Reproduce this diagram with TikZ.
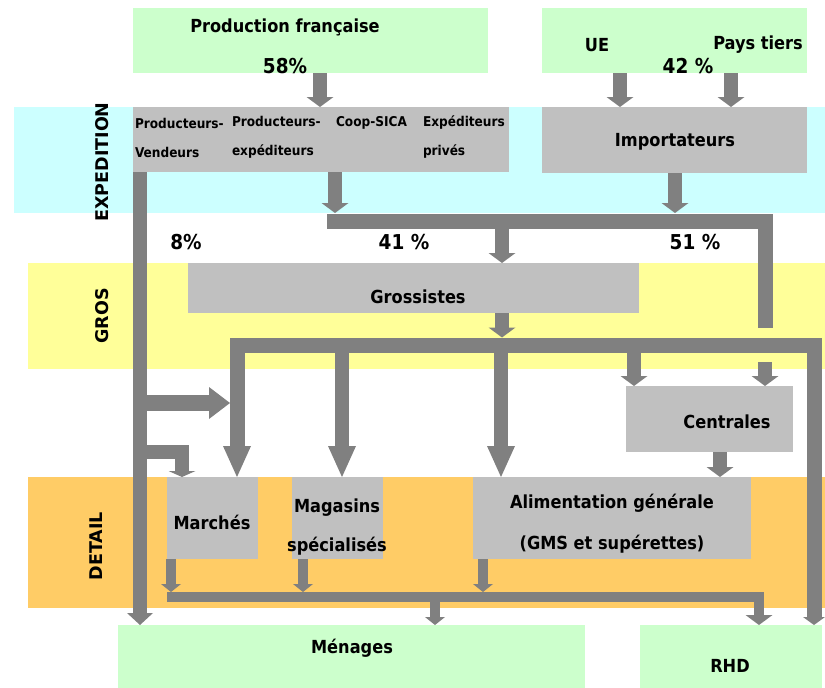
\documentclass[tikz,border=0pt]{standalone}
\usepackage{fontspec}
\setmainfont{DejaVu Sans Condensed}
\newfontfamily\bandfont{DejaVu Sans}
\usetikzlibrary{arrows.meta}

\definecolor{arrgrey}{HTML}{808080}
\definecolor{boxgrey}{HTML}{C0C0C0}
\definecolor{cyanband}{HTML}{CCFFFF}
\definecolor{yellband}{HTML}{FFFF99}
\definecolor{orband}{HTML}{FFCC66}
\definecolor{greenfill}{HTML}{CCFFCC}

\begin{document}
\begin{tikzpicture}[x=1pt,y=-1pt]
					\tikzstyle{every node}=[inner sep=0pt, outer sep=0pt]
					\tikzstyle{band}=[anchor=north west]
					\tikzstyle{greybox}=[fill=boxgrey, anchor=north west]
					\tikzstyle{greenbox}=[fill=greenfill, anchor=north west]
					\tikzstyle{txt}=[font=\fontsize{18}{21}\selectfont\bfseries]
					\tikzstyle{pct}=[font=\fontsize{20.5}{22}\selectfont\bfseries]
					\tikzstyle{sub}=[font=\fontsize{13.5}{29}\selectfont\bfseries, align=left, anchor=west]
					\tikzstyle{bandtxt}=[font=\bandfont\fontsize{17.5}{19}\selectfont\bfseries, rotate=90]
					\tikzstyle{arr}=[color=arrgrey, line width=14pt, -{Triangle[width=27pt,length=10pt,line width=0pt]}]
					\tikzstyle{bigarr}=[color=arrgrey, line width=14pt, -{Triangle[width=28pt,length=31pt,line width=0pt]}]
					\tikzstyle{sidearr}=[color=arrgrey, line width=16pt, -{Triangle[width=32pt,length=21pt,line width=0pt]}]
					\tikzstyle{elbowarr}=[color=arrgrey, line width=14pt, -{Triangle[width=27pt,length=6pt,line width=0pt]}]
					\tikzstyle{smallarr}=[color=arrgrey, line width=10pt, -{Triangle[width=20pt,length=8pt,line width=0pt]}]
					\tikzstyle{barline}=[color=arrgrey, line width=15pt]
					\tikzstyle{thinbar}=[color=arrgrey, line width=10pt]
					\useasboundingbox (0,0) rectangle (825,688);
					\node[band, fill=cyanband, minimum width=811pt, minimum height=106pt] (expband) at (14,107) {};
					\node[band, fill=yellband, minimum width=797pt, minimum height=106pt] (grosband) at (28,263) {};
					\node[band, fill=orband, minimum width=797pt, minimum height=131pt] (detband) at (28,477) {};
					\node[bandtxt] (lexp) at (102,162) {EXPEDITION};
					\node[bandtxt] (lgros) at (102,316) {GROS};
					\node[bandtxt] (ldet) at (96,546) {DETAIL};
					\node[greenbox, minimum width=355pt, minimum height=65pt] (prod) at (133,8) {};
					\node[greenbox, minimum width=265pt, minimum height=65pt] (src) at (542,8) {};
					\node[greybox, minimum width=376pt, minimum height=65pt] (exped) at (133,107) {};
					\node[greybox, minimum width=265pt, minimum height=66pt] (imp) at (542,107) {};
					\node[greybox, minimum width=451pt, minimum height=50pt] (gross) at (188,263) {};
					\node[greybox, minimum width=167pt, minimum height=66pt] (centr) at (626,386) {};
					\node[greybox, minimum width=91pt, minimum height=82pt] (march) at (167,477) {};
					\node[greybox, minimum width=91pt, minimum height=82pt] (magas) at (292,477) {};
					\node[greybox, minimum width=278pt, minimum height=82pt] (alim) at (473,477) {};
					\node[greenbox, minimum width=467pt, minimum height=63pt] (menag) at (118,625) {};
					\node[greenbox, minimum width=182pt, minimum height=63pt] (rhd) at (640,625) {};
					\coordinate (cpf) at (320,0);
					\coordinate (cue) at (620,0);
					\coordinate (cpt) at (731,0);
					\coordinate (cex) at (335,0);
					\coordinate (cim) at (675,0);
					\coordinate (cgr) at (502,0);
					\coordinate (cmg) at (342,0);
					\coordinate (cal) at (501,0);
					\coordinate (cc1) at (634,0);
					\coordinate (cc2) at (765,0);
					\coordinate (cc3) at (720,0);
					\coordinate (clv) at (140,0);
					\coordinate (cm1) at (171,0);
					\coordinate (cm2) at (303,0);
					\coordinate (cm3) at (483,0);
					\coordinate (cmn) at (435,0);
					\coordinate (b1w) at (327,221);
					\coordinate (b1e) at (765.5,221);
					\coordinate (b1s) at (765.5,328);
					\coordinate (b2w) at (237,345);
					\coordinate (b2e) at (814,345);
					\coordinate (b3w) at (167,596.5);
					\coordinate (b3e) at (759,596.5);
					\coordinate (br1) at (140,403);
					\coordinate (br2) at (140,452);
					\coordinate (br2e) at (182,452);
					\draw[arr] (prod.south -| cpf) -- (exped.north -| cpf);
					\draw[arr] (src.south -| cue) -- (imp.north -| cue);
					\draw[arr] (src.south -| cpt) -- (imp.north -| cpt);
					\draw[arr] (exped.south -| cex) -- (expband.south -| cex);
					\draw[arr] (imp.south -| cim) -- (expband.south -| cim);
					\draw[barline] (b1w) -- (b1e) -- (b1s);
					\draw[arr] ([yshift=-7pt]b1w -| cgr) -- (gross.north -| cgr);
					\draw[arr] (gross.south -| cgr) -- ([yshift=7.5pt]b2w -| cgr);
					\draw[barline, {Triangle[width=28pt,length=31pt,line width=0pt]}-{Triangle[width=22pt,length=8pt,line width=0pt]}] (march.north -| b2w) -- (b2w) -- (b2e) -- (rhd.north -| b2e);
					\draw[bigarr] (b2w -| cmg) -- (magas.north -| cmg);
					\draw[bigarr] (b2w -| cal) -- (alim.north -| cal);
					\draw[arr] (b2w -| cc1) -- (centr.north -| cc1);
					\draw[arr] ([yshift=-17pt]b2w -| cc2) -- (centr.north -| cc2);
					\draw[arr] (centr.south -| cc3) -- (alim.north -| cc3);
					\draw[arr, -{Triangle[width=26pt,length=12pt,line width=0pt]}] (exped.south -| clv) -- (menag.north -| clv);
					\draw[sidearr] (br1) -- ([xshift=-7pt]br1 -| b2w);
					\draw[elbowarr] (br2) -- (br2e) -- (march.north -| br2e);
					\draw[smallarr] (march.south -| cm1) -- ([yshift=4.5pt]b3w -| cm1);
					\draw[smallarr] (magas.south -| cm2) -- ([yshift=4.5pt]b3w -| cm2);
					\draw[smallarr] (alim.south -| cm3) -- ([yshift=4.5pt]b3w -| cm3);
					\draw[thinbar, -{Triangle[width=27pt,length=10pt,line width=0pt]}] (b3w) -- (b3e) -- (rhd.north -| b3e);
					\draw[smallarr] (b3w -| cmn) -- (menag.north -| cmn);
					\node[txt] (tprod) at (285,27) {Production française};
					\node[pct] (t58) at (285,66) {58\%};
					\node[txt] (tue) at (597,45) {UE};
					\node[txt] (tpt) at (758,45) {Pays tiers};
					\node[pct] (t42) at (688,66) {42 \%};
					\node[sub] (tpv) at (135,137.5) {Producteurs-\\Vendeurs};
					\node[sub] (tpe) at (232,137.5) {Producteurs-\\expéditeurs};
					\node[sub] (tcs) at (336,123) {Coop-SICA};
					\node[sub] (tep) at (423,137.5) {Expéditeurs\\privés};
					\node[txt] (timp) at (675,142) {Importateurs};
					\node[pct] (t8) at (186,242) {8\%};
					\node[pct] (t41) at (404,242) {41 \%};
					\node[pct] (t51) at (695,242) {51 \%};
					\node[txt] (tgross) at (418,297) {Grossistes};
					\node[txt] (tcentr) at (727,422) {Centrales};
					\node[txt] (tmarch) at (212,522) {Marchés};
					\node[txt, align=center, font=\fontsize{18}{39}\selectfont\bfseries] (tmagas) at (337,527) {Magasins\\spécialisés};
					\node[txt, align=center, font=\fontsize{18}{41}\selectfont\bfseries] (talim) at (612,524) {Alimentation générale\\(GMS et supérettes)};
					\node[txt] (tmenag) at (352,648) {Ménages};
					\node[txt] (trhd) at (730,666) {RHD};
\end{tikzpicture}
\end{document}
